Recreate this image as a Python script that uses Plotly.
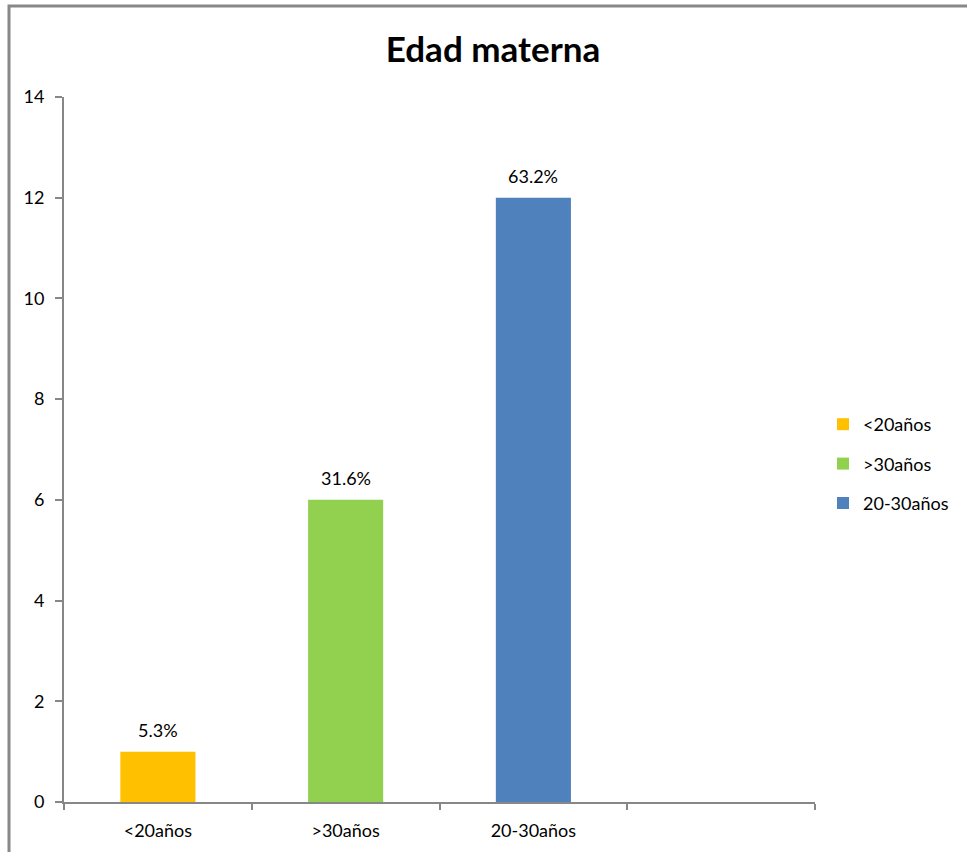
import plotly.graph_objects as go

# Maternal age groups and number of cases
categories = ["<20años", ">30años", "20-30años"]
counts = [1, 6, 12]
colors = ["#FFC000", "#92D050", "#4F81BD"]
y_ticks = [0, 2, 4, 6, 8, 10, 12, 14]

total = sum(counts)
percents = [c / total * 100 for c in counts]

FONT = "Lato, 'Open Sans', sans-serif"
AXIS_GREY = "#878787"
LABEL_SIZE = 18

fig = go.Figure()
for i, (cat, val, col) in enumerate(zip(categories, counts, colors)):
    fig.add_trace(go.Bar(
        x=[i], y=[val], name=cat, width=0.4,
        marker=dict(color=col, line=dict(width=0)),
        legendgroup=cat, showlegend=True,
    ))

# Percentage labels above each bar
for i, (val, pct) in enumerate(zip(counts, percents)):
    fig.add_annotation(
        x=i, y=val, text=f"{pct:.1f}%", showarrow=False,
        yanchor="bottom", yshift=9,
        font=dict(family=FONT, size=LABEL_SIZE, color="#000"),
    )

# Outer chart frame
fig.add_shape(
    type="rect", xref="paper", yref="paper",
    x0=(9 - 64) / 751, x1=1.5, y0=-0.3, y1=(802 - 6) / 705,
    line=dict(color="#888888", width=3), fillcolor="rgba(0,0,0,0)",
    layer="above",
)

fig.update_layout(
    width=967, height=852,
    margin=dict(l=64, r=152, t=97, b=50),
    paper_bgcolor="white", plot_bgcolor="white",
    barmode="overlay",
    title=dict(
        text="<b>Edad materna</b>", x=493 / 967, xanchor="center",
        y=1 - 50 / 852, yanchor="middle",
        font=dict(family=FONT, size=35, color="#000"),
    ),
    font=dict(family=FONT, size=LABEL_SIZE, color="#000"),
    legend=dict(
        x=(823 - 64) / 751, xanchor="left", y=(802 - 464) / 705, yanchor="middle",
        font=dict(family=FONT, size=LABEL_SIZE, color="#000"),
        tracegroupgap=13, bgcolor="rgba(0,0,0,0)",
    ),
    xaxis=dict(
        range=[-0.5, 3.5], tickmode="array", tickvals=[0, 1, 2],
        ticktext=categories, ticks="", showgrid=False, zeroline=False,
        showline=True, linecolor=AXIS_GREY, linewidth=2,
        ticklabelstandoff=11,
        minor=dict(tickmode="array", tickvals=[-0.5, 0.5, 1.5, 2.5, 3.5],
                   ticks="outside", ticklen=6, tickwidth=2, tickcolor=AXIS_GREY,
                   showgrid=False),
        tickfont=dict(family=FONT, size=LABEL_SIZE, color="#000"),
    ),
    yaxis=dict(
        range=[0, 14], tickmode="array", tickvals=y_ticks,
        ticks="outside", ticklen=7, tickwidth=2, tickcolor=AXIS_GREY,
        showgrid=False, zeroline=False,
        showline=True, linecolor=AXIS_GREY, linewidth=2,
        ticklabelstandoff=7,
        tickfont=dict(family=FONT, size=LABEL_SIZE, color="#000"),
    ),
)

fig.write_html("out.html")
